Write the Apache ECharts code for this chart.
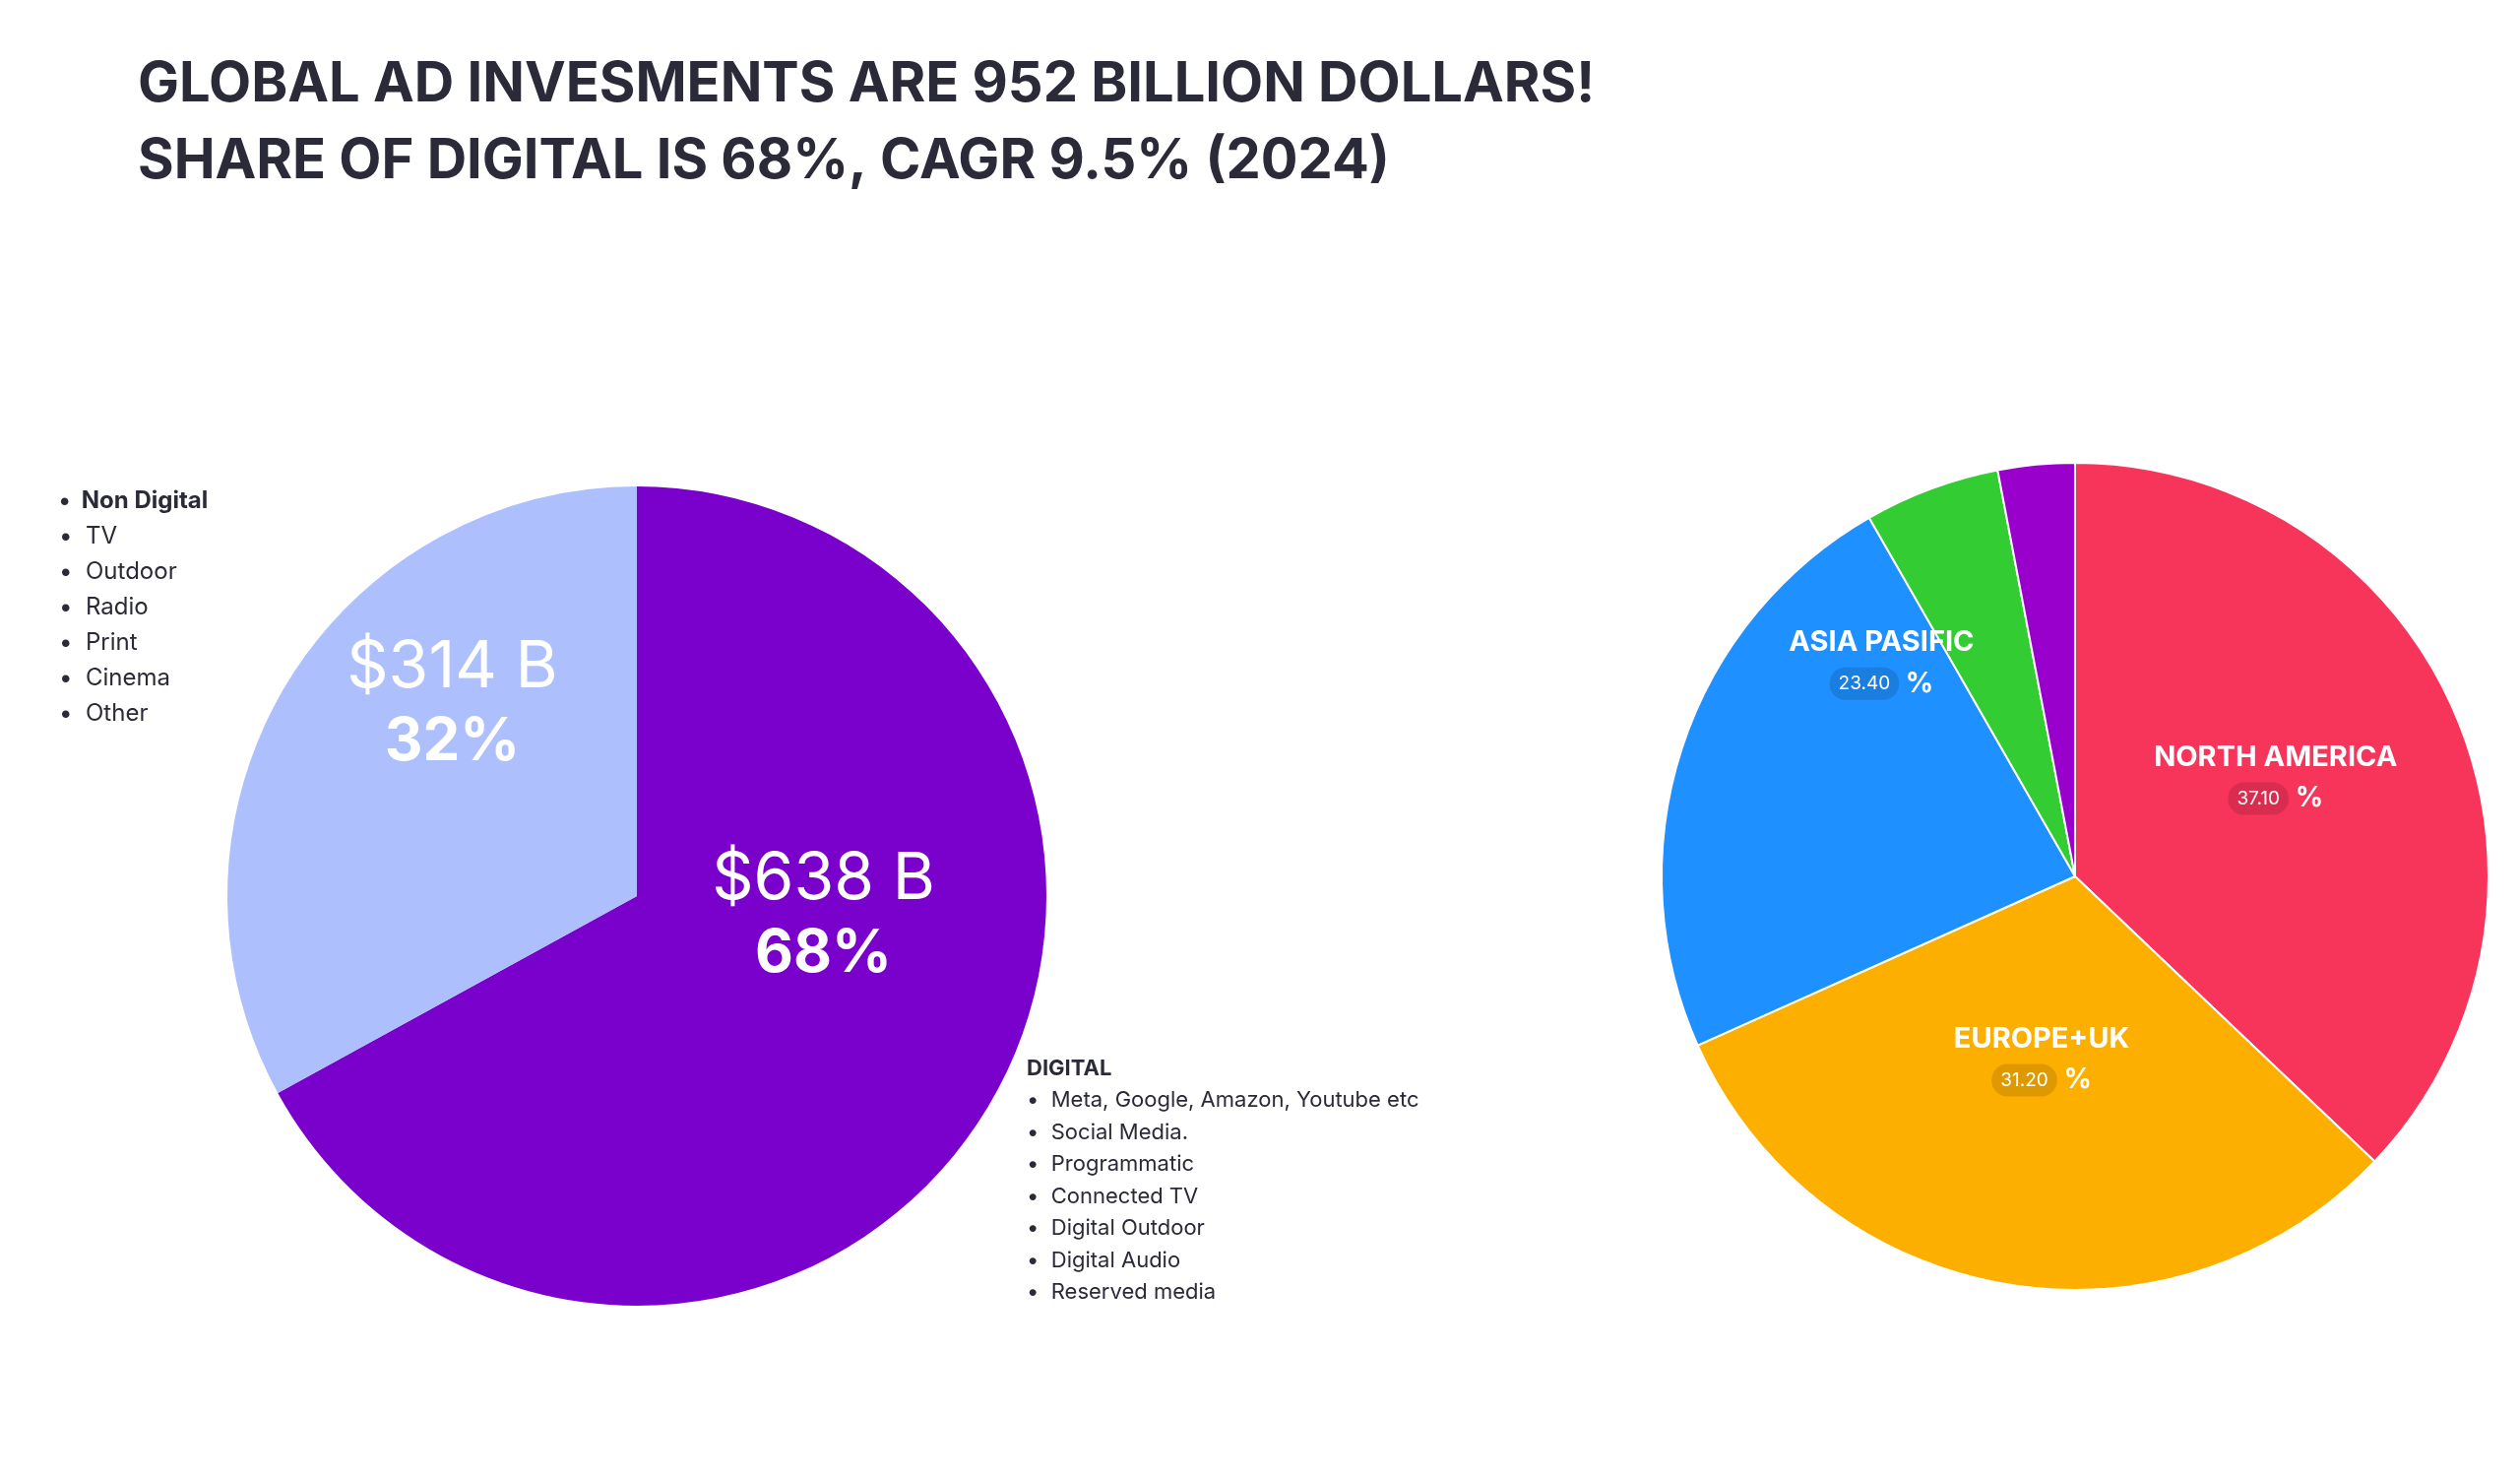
<!DOCTYPE html>
<html><head><meta charset="utf-8">
<script src="https://cdn.jsdelivr.net/npm/echarts@6/dist/echarts.min.js"></script>
<style>html,body{margin:0;padding:0;background:#fff}#c{width:2560px;height:1503px}</style>
</head><body><div id="c"></div>
<script>
const titleLines = ['GLOBAL AD INVESMENTS ARE 952 BILLION DOLLARS!', 'SHARE OF DIGITAL IS 68%, CAGR 9.5% (2024)'];
const typeNames = ['Digital', 'Non Digital'];
const typeValues = [638, 314];
const typePercents = ['68%', '32%'];
const nonDigitalItems = ['Non Digital', 'TV', 'Outdoor', 'Radio', 'Print', 'Cinema', 'Other'];
const digitalItems = ['DIGITAL', 'Meta, Google, Amazon, Youtube etc', 'Social Media.', 'Programmatic', 'Connected TV', 'Digital Outdoor', 'Digital Audio', 'Reserved media'];
const regionNames = ['NORTH AMERICA', 'EUROPE+UK', 'ASIA PASIFIC', 'OTHER 1', 'OTHER 2'];
const regionValues = [37.1, 31.2, 23.4, 5.3, 3.0];

const chart = echarts.init(document.getElementById('c'));
const F = 'Inter, "Noto Sans", sans-serif';
const graphics = [];
titleLines.forEach((t, i) => graphics.push({type:'text', left:140, top:58 + i*78,
  style:{text:t, font:'bold 56px ' + F, fill:'#2a2a38'}}));
nonDigitalItems.forEach((t, i) => graphics.push({type:'text', left:60, top:497 + i*36,
  style:{text:'•  ' + t, font:(i===0?'bold ':'') + '24px ' + F, fill:'#2a2a38'}}));
digitalItems.forEach((t, i) => graphics.push({type:'text', left:1043, top:1074 + i*32.5,
  style:{text:(i===0?'':'•  ') + t, font:(i===0?'bold ':'') + '22px ' + F, fill:'#2a2a38'}}));

chart.setOption({
  animation:false,
  graphic:graphics,
  series:[
    {type:'pie', center:[647,910], radius:[0,416], startAngle:90, clockwise:true,
     data:typeNames.map((n,i)=>({name:n, value:typeValues[i],
       itemStyle:{color:i===0?'#7A00CC':'#ADBFFD'},
       label:{formatter:'{a|$' + typeValues[i] + ' B}\n{b|' + typePercents[i] + '}'}})),
     label:{show:true, position:'inside', color:'#fff',
       rich:{a:{fontSize:66, fontFamily:F, color:'#fff', lineHeight:78},
             b:{fontSize:60, fontWeight:'bold', fontFamily:F, color:'#fff', lineHeight:72}}},
     labelLine:{show:false},
     labelLayout:p=>({dx:p.dataIndex===0?8:-6, dy:-88})
    },
    {type:'pie', center:[2108,890], radius:[0,420], startAngle:90, clockwise:true,
     itemStyle:{borderColor:'#fff', borderWidth:2},
     data:regionNames.map((n,i)=>({name:n, value:regionValues[i],
       itemStyle:{color:['#F7345A','#FDAF00','#1E90FF','#33CC33','#9900CC'][i]},
       label:{show:i<3}})),
     label:{position:'inside', formatter:p=>'{n|' + p.name + '}\n{v|' + p.value.toFixed(2) + '}{p| %}',
       rich:{n:{fontSize:29, fontWeight:'bold', fontFamily:F, color:'#fff', lineHeight:50},
             v:{fontSize:19, fontFamily:F, color:'#fff', backgroundColor:'rgba(0,0,0,0.12)', borderRadius:16, padding:[7,9]},
             p:{fontSize:28, fontWeight:'bold', fontFamily:F, color:'#fff'}}},
     labelLine:{show:false},
     labelLayout:p=>({dx:[8,2,6][p.dataIndex]||0, dy:[-20,-28,-155][p.dataIndex]||0})
    }
  ]
});
</script></body></html>
